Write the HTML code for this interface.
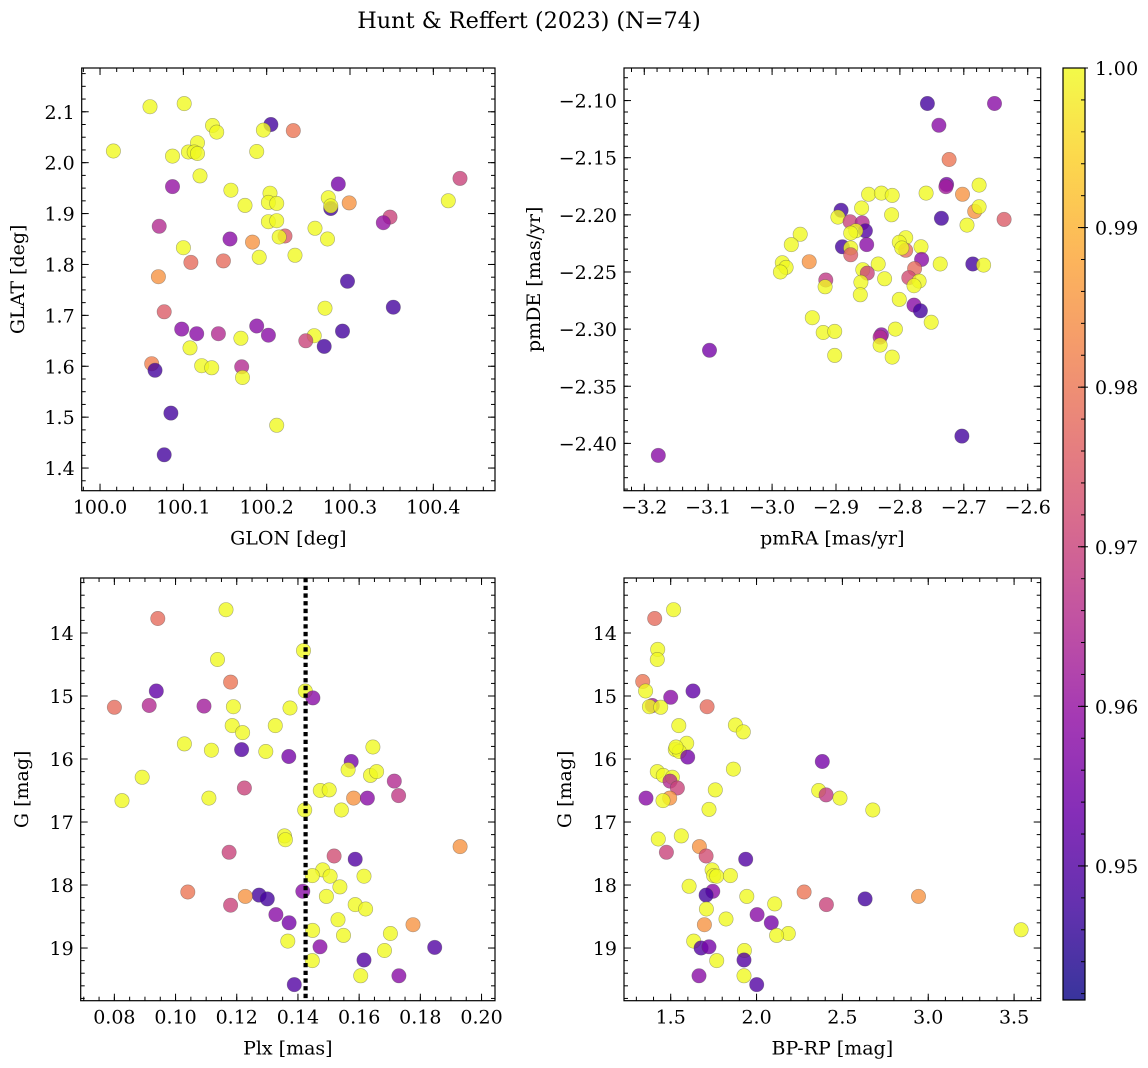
<!DOCTYPE html>
<html><head><meta charset="utf-8">
<style>
html,body{margin:0;padding:0;background:#fff;}
svg{display:block;font-family:"DejaVu Serif","Liberation Serif",serif;}
</style></head>
<body>
<svg id="fig" width="1148" height="1068" viewBox="0 0 1148 1068" xmlns="http://www.w3.org/2000/svg">
<defs>
<linearGradient id="cbgrad" x1="0" y1="1" x2="0" y2="0">
<stop offset="0" stop-color="#0d0887"/><stop offset="0.1" stop-color="#41049d"/><stop offset="0.2" stop-color="#6a00a8"/><stop offset="0.3" stop-color="#8f0da4"/><stop offset="0.4" stop-color="#b12a90"/><stop offset="0.5" stop-color="#cc4778"/><stop offset="0.6" stop-color="#e16462"/><stop offset="0.7" stop-color="#f2844b"/><stop offset="0.8" stop-color="#fca636"/><stop offset="0.9" stop-color="#fcce25"/><stop offset="1" stop-color="#f0f921"/>
</linearGradient>
</defs>
<text x="529" y="28" font-size="22.4" text-anchor="middle">Hunt &amp; Reffert (2023) (N=74)</text>
</svg>
<script>
// ---- Panel 1: GLON vs GLAT ----
const p1Glon=[100.016,100.060,100.101,100.135,100.140,100.205,100.196,100.232,100.117,100.106,100.113,100.117,100.087,100.188,100.120,100.087,100.286,100.432,100.157,100.204,100.174,100.202,100.212,100.274,100.277,100.277,100.299,100.418,100.348,100.340,100.071,100.202,100.212,100.222,100.215,100.258,100.273,100.156,100.183,100.100,100.191,100.234,100.109,100.148,100.070,100.297,100.352,100.270,100.077,100.098,100.116,100.142,100.169,100.188,100.202,100.257,100.247,100.291,100.269,100.108,100.062,100.066,100.122,100.134,100.170,100.171,100.085,100.212,100.077];
const p1Glat=[2.023,2.110,2.116,2.073,2.060,2.075,2.064,2.063,2.039,2.021,2.021,2.018,2.013,2.022,1.974,1.953,1.958,1.969,1.946,1.940,1.916,1.922,1.920,1.931,1.910,1.915,1.921,1.925,1.893,1.882,1.875,1.884,1.886,1.856,1.854,1.871,1.850,1.850,1.844,1.833,1.814,1.818,1.804,1.807,1.776,1.767,1.716,1.714,1.707,1.673,1.664,1.664,1.655,1.679,1.661,1.660,1.650,1.669,1.639,1.636,1.605,1.592,1.601,1.597,1.599,1.578,1.508,1.484,1.426];
const p1Prob=[1,1,1,1,1,0.948,1,0.98,1,1,1,1,1,1,1,0.96,0.955,0.97,1,1,1,1,1,1,0.948,1,0.985,1,0.97,0.96,0.965,1,1,0.975,1,1,1,0.958,0.985,1,1,1,0.978,0.978,0.985,0.948,0.948,1,0.975,0.958,0.958,0.965,1,0.958,0.958,1,0.97,0.948,0.948,1,0.982,0.948,1,1,0.965,1,0.948,1,0.948];
const p1XTicks=[100.0,100.1,100.2,100.3,100.4];
const p1YTicks=[1.4,1.5,1.6,1.7,1.8,1.9,2.0,2.1];

// ---- Panel 2: pmRA vs pmDE ----
const p2PmRA=[-2.757,-2.652,-2.739,-2.723,-2.727,-2.728,-2.676,-2.759,-2.702,-2.849,-2.829,-2.812,-2.860,-2.813,-2.683,-2.676,-2.735,-2.637,-2.695,-2.892,-2.897,-2.878,-2.859,-2.854,-2.869,-2.877,-2.956,-2.970,-2.890,-2.852,-2.877,-2.877,-2.791,-2.801,-2.791,-2.797,-2.767,-2.766,-2.984,-2.978,-2.987,-2.942,-2.834,-2.858,-2.737,-2.686,-2.669,-2.851,-2.777,-2.786,-2.770,-2.916,-2.917,-2.824,-2.861,-2.778,-2.862,-2.801,-2.778,-2.768,-2.751,-2.937,-2.807,-2.920,-2.902,-2.829,-2.831,-2.831,-3.098,-2.902,-2.812,-2.703,-3.178];
const p2PmDE=[-2.1026,-2.1026,-2.1216,-2.1516,-2.1734,-2.1754,-2.174,-2.181,-2.182,-2.182,-2.181,-2.183,-2.194,-2.200,-2.197,-2.193,-2.203,-2.204,-2.209,-2.196,-2.202,-2.206,-2.207,-2.214,-2.214,-2.216,-2.217,-2.226,-2.228,-2.226,-2.229,-2.235,-2.220,-2.224,-2.231,-2.229,-2.228,-2.239,-2.242,-2.246,-2.250,-2.241,-2.243,-2.248,-2.243,-2.243,-2.244,-2.251,-2.247,-2.255,-2.258,-2.257,-2.263,-2.256,-2.259,-2.262,-2.270,-2.274,-2.279,-2.284,-2.294,-2.290,-2.300,-2.303,-2.302,-2.305,-2.307,-2.314,-2.3185,-2.323,-2.3245,-2.3936,-2.4105];
const p2Prob=[0.948,0.958,0.958,0.98,0.955,0.962,1,1,0.985,1,1,1,1,1,0.985,1,0.948,0.975,1,0.948,1,0.97,0.965,0.95,1,1,1,1,0.948,0.958,1,0.975,1,1,0.978,1,1,0.958,1,1,1,0.985,1,1,1,0.948,1,0.97,0.978,0.972,1,0.968,1,1,1,1,1,1,0.958,0.948,1,1,1,1,1,0.958,0.965,1,0.955,1,1,0.948,0.958];
const p2XTicks=[-3.2,-3.1,-3.0,-2.9,-2.8,-2.7,-2.6];
const p2YTicks=[-2.40,-2.35,-2.30,-2.25,-2.20,-2.15,-2.10];

// ---- Panel 3: Plx vs G ----
const p3Plx=[0.1165,0.0942,0.1418,0.1137,0.1180,0.0937,0.1424,0.1449,0.0800,0.0914,0.1093,0.1189,0.1374,0.1185,0.1219,0.1326,0.1029,0.1117,0.1216,0.1295,0.1370,0.1645,0.1574,0.1564,0.1637,0.1657,0.0891,0.1715,0.1225,0.1473,0.1502,0.1729,0.1582,0.1627,0.0825,0.1109,0.1422,0.1542,0.1356,0.1359,0.1930,0.1175,0.1518,0.1587,0.1481,0.1447,0.1505,0.1616,0.1537,0.1040,0.1416,0.1273,0.1300,0.1228,0.1493,0.1180,0.1587,0.1621,0.1328,0.1371,0.1531,0.1776,0.1448,0.1702,0.1549,0.1367,0.1472,0.1847,0.1683,0.1447,0.1616,0.1605,0.1730,0.1388];
const p3G=[13.63,13.77,14.28,14.42,14.78,14.92,14.92,15.03,15.18,15.15,15.16,15.17,15.19,15.47,15.58,15.47,15.76,15.86,15.85,15.88,15.96,15.81,16.04,16.17,16.26,16.20,16.29,16.35,16.46,16.50,16.49,16.58,16.62,16.62,16.66,16.62,16.81,16.81,17.22,17.28,17.39,17.48,17.54,17.59,17.76,17.85,17.86,17.86,18.03,18.11,18.10,18.16,18.22,18.18,18.18,18.32,18.31,18.38,18.47,18.60,18.55,18.63,18.72,18.77,18.80,18.89,18.98,18.99,19.04,19.20,19.19,19.44,19.44,19.58];
const p3Prob=[1,0.978,1,1,0.98,0.952,1,0.958,0.978,0.965,0.962,1,1,1,1,1,1,1,0.95,1,0.955,1,0.955,1,1,1,1,0.965,0.97,1,1,0.968,0.985,0.958,1,1,1,1,1,1,0.985,0.97,0.972,0.95,1,1,1,1,1,0.98,0.958,0.948,0.948,0.985,1,0.97,1,1,0.958,0.955,1,0.985,1,1,1,1,0.958,0.95,1,1,0.95,1,0.958,0.95];
const p3XTicks=[0.08,0.10,0.12,0.14,0.16,0.18,0.20];
const p3YTicks=[14,15,16,17,18,19];
const p3MeanPlx=[0.1425];

// ---- Panel 4: BP-RP vs G ----
const p4Color=[1.517,1.407,1.424,1.422,1.337,1.354,1.630,1.500,1.393,1.376,1.442,1.712,1.547,1.877,1.923,1.593,1.527,1.550,1.531,1.599,2.383,1.422,1.457,1.510,1.496,1.865,1.539,1.760,2.362,2.405,2.486,1.356,1.494,1.455,1.723,2.677,1.428,1.562,1.667,1.475,1.706,1.937,1.741,1.750,1.768,1.848,1.607,2.277,1.745,1.706,2.632,2.943,1.943,2.106,2.407,1.708,2.003,2.086,1.822,1.696,3.541,2.185,2.117,1.634,1.677,1.723,1.929,1.927,1.768,1.665,1.927,2.001];
const p4G=[13.63,13.77,14.26,14.42,14.77,14.92,14.92,15.02,15.15,15.17,15.18,15.17,15.47,15.46,15.57,15.75,15.85,15.88,15.81,15.97,16.04,16.20,16.26,16.29,16.35,16.16,16.46,16.49,16.50,16.57,16.62,16.62,16.62,16.66,16.80,16.81,17.27,17.22,17.39,17.48,17.54,17.59,17.76,17.85,17.86,17.85,18.02,18.11,18.10,18.16,18.22,18.18,18.18,18.30,18.31,18.38,18.47,18.60,18.54,18.63,18.71,18.77,18.80,18.89,19.00,18.98,19.04,19.19,19.20,19.44,19.44,19.58];
const p4Prob=[1,0.978,1,1,0.98,1,0.952,0.958,0.962,1,1,0.978,1,1,1,1,1,1,1,0.955,0.955,1,1,1,0.965,1,0.97,1,1,0.968,1,0.958,0.985,1,1,1,1,1,0.985,0.97,0.972,0.95,1,1,1,1,1,0.98,0.958,0.948,0.948,0.985,1,1,0.97,1,0.958,0.955,1,0.985,1,1,1,1,0.95,0.955,1,0.95,1,0.958,1,0.95];
const p4XTicks=[1.5,2.0,2.5,3.0,3.5];
const p4YTicks=[14,15,16,17,18,19];

const cbTicks=[0.95,0.96,0.97,0.98,0.99,1.00];

const NS="http://www.w3.org/2000/svg";
const svg=document.getElementById('fig');
const VMIN=0.9416,VMAX=1.0;
const FS=19;
const stops=[[13,8,135],[65,4,157],[106,0,168],[143,13,164],[177,42,144],[204,71,120],[225,100,98],[242,132,75],[252,166,54],[252,206,37],[240,249,33]];
function plasma(p){let t=(p-VMIN)/(VMAX-VMIN);t=Math.max(0,Math.min(1,t))*10;const i=Math.min(9,Math.floor(t)),f=t-i;const a=stops[i],b=stops[i+1];return 'rgb('+a.map((v,k)=>Math.round(v+(b[k]-v)*f)).join(',')+')';}
function mk(tag,attrs,parent){const e=document.createElementNS(NS,tag);for(const k in attrs)e.setAttribute(k,attrs[k]);(parent||svg).appendChild(e);return e;}
function fmtMinus(s){return s.replace('-','\u2212');}

function panel(cfg){
  const g=mk('g',{});
  
  
  const sx=v=>cfg.L+(v-cfg.xmin)/(cfg.xmax-cfg.xmin)*(cfg.R-cfg.L);
  const sy=v=>cfg.inv? cfg.T+(v-cfg.ymin)/(cfg.ymax-cfg.ymin)*(cfg.B-cfg.T) : cfg.B-(v-cfg.ymin)/(cfg.ymax-cfg.ymin)*(cfg.B-cfg.T);
  const pg=mk('g',{},g);
  
  
  for(let i=0;i<cfg.xs.length;i++){
    const c=mk('circle',{cx:sx(cfg.xs[i]).toFixed(1),cy:sy(cfg.ys[i]).toFixed(1),r:7.2,fill:plasma(cfg.ps[i]),'fill-opacity':0.8,stroke:'rgba(70,70,70,0.45)','stroke-width':0.6},pg);
    
    
  }
  if(cfg.vline){
    const l=mk('line',{x1:sx(cfg.vline),x2:sx(cfg.vline),y1:cfg.T,y2:cfg.B,stroke:'#000','stroke-width':4.2,'stroke-dasharray':'4.3 3.4'},g);
    
    
  }
  const fr=mk('rect',{x:cfg.L,y:cfg.T,width:cfg.R-cfg.L,height:cfg.B-cfg.T,fill:'none',stroke:'#000','stroke-width':1.2},g);
  
  
  const tk=mk('g',{stroke:'#000','stroke-width':1},g);
  for(let v=cfg.xmin-(cfg.xmin%cfg.xminor)-cfg.xminor;v<=cfg.xmax;v+=cfg.xminor){const x=sx(v);if(x<cfg.L+0.5||x>cfg.R-0.5)continue;mk('line',{x1:x,x2:x,y1:cfg.B,y2:cfg.B-4},tk);mk('line',{x1:x,x2:x,y1:cfg.T,y2:cfg.T+4},tk);}
  for(let v=Math.floor(cfg.ymin/cfg.yminor)*cfg.yminor;v<=cfg.ymax;v+=cfg.yminor){if(v<cfg.ymin)continue;const y=sy(v);if(y<cfg.T+0.5||y>cfg.B-0.5)continue;mk('line',{x1:cfg.L,x2:cfg.L+4,y1:y,y2:y},tk);mk('line',{x1:cfg.R,x2:cfg.R-4,y1:y,y2:y},tk);}
  cfg.xt.forEach(v=>{const x=sx(v);mk('line',{x1:x,x2:x,y1:cfg.B,y2:cfg.B-7},tk);mk('line',{x1:x,x2:x,y1:cfg.T,y2:cfg.T+7},tk);
    const t=mk('text',{x:x,y:cfg.B+23,'font-size':FS,'text-anchor':'middle'},g);t.textContent=fmtMinus(v.toFixed(cfg.xdec));
    });
  cfg.yt.forEach(v=>{const y=sy(v);mk('line',{x1:cfg.L,x2:cfg.L+7,y1:y,y2:y},tk);mk('line',{x1:cfg.R,x2:cfg.R-7,y1:y,y2:y},tk);
    const t=mk('text',{x:cfg.L-7,y:y+7,'font-size':FS,'text-anchor':'end'},g);t.textContent=fmtMinus(v.toFixed(cfg.ydec));
    });
  const xl=mk('text',{x:(cfg.L+cfg.R)/2,y:cfg.B+54,'font-size':FS,'text-anchor':'middle'},g);xl.textContent=cfg.xlabel;
  
  const yx=cfg.ylx, yy=(cfg.T+cfg.B)/2;
  const yl=mk('text',{x:yx,y:yy,'font-size':FS,'text-anchor':'middle',transform:'rotate(-90 '+yx+' '+yy+')'},g);yl.textContent=cfg.ylabel;
  
}

panel({name:'glon-glat-panel',L:81.7,R:495,T:68,B:490.7,xmin:99.978,xmax:100.474,ymin:1.3555,ymax:2.186,inv:false,xs:p1Glon,ys:p1Glat,ps:p1Prob,xt:p1XTicks,yt:p1YTicks,xdec:1,ydec:1,xminor:0.02,yminor:0.025,xlabel:'GLON [deg]',ylabel:'GLAT [deg]',ylx:24});
panel({name:'pm-panel',L:624,R:1040.7,T:68,B:490.7,xmin:-3.2-(644.3-624)/640,xmax:-2.6+(1040.7-1027.7)/640,ymin:-2.4414,ymax:-2.0715,inv:false,xs:p2PmRA,ys:p2PmDE,ps:p2Prob,xt:p2XTicks,yt:p2YTicks,xdec:1,ydec:2,xminor:0.02,yminor:0.01,xlabel:'pmRA [mas/yr]',ylabel:'pmDE [mas/yr]',ylx:540});
panel({name:'plx-g-panel',L:80.7,R:495,T:578,B:1000.7,xmin:0.069,xmax:0.2044,ymin:13.127,ymax:19.836,inv:true,xs:p3Plx,ys:p3G,ps:p3Prob,xt:p3XTicks,yt:p3YTicks,xdec:2,ydec:0,xminor:0.005,yminor:0.2,xlabel:'Plx [mas]',ylabel:'G [mag]',ylx:28,vline:p3MeanPlx[0]});
panel({name:'cmd-panel',L:624,R:1040.7,T:578,B:1000.7,xmin:1.228,xmax:3.655,ymin:13.127,ymax:19.836,inv:true,xs:p4Color,ys:p4G,ps:p4Prob,xt:p4XTicks,yt:p4YTicks,xdec:1,ydec:0,xminor:0.1,yminor:0.2,xlabel:'BP-RP [mag]',ylabel:'G [mag]',ylx:571});

const cb=mk('g',{});


const CT=68,CB=1000,CL=1063,CR=1085;
const cy=v=>CB-(v-VMIN)/(VMAX-VMIN)*(CB-CT);
mk('rect',{x:CL,y:CT,width:CR-CL,height:CB-CT,fill:'url(#cbgrad)','fill-opacity':0.82},cb);
mk('rect',{x:CL,y:CT,width:CR-CL,height:CB-CT,fill:'none',stroke:'#000','stroke-width':1.2},cb);
for(let v=0.942;v<1.0;v+=0.002){const y=cy(v);mk('line',{x1:CR-4,x2:CR,y1:y,y2:y,stroke:'#000','stroke-width':1},cb);}
cbTicks.forEach(v=>{const y=cy(v);mk('line',{x1:CR-7,x2:CR+3,y1:y,y2:y,stroke:'#000','stroke-width':1},cb);
  const t=mk('text',{x:CR+10,y:y+7,'font-size':FS,'letter-spacing':0.3},cb);t.textContent=v.toFixed(2);
  });
</script>
</body></html>
